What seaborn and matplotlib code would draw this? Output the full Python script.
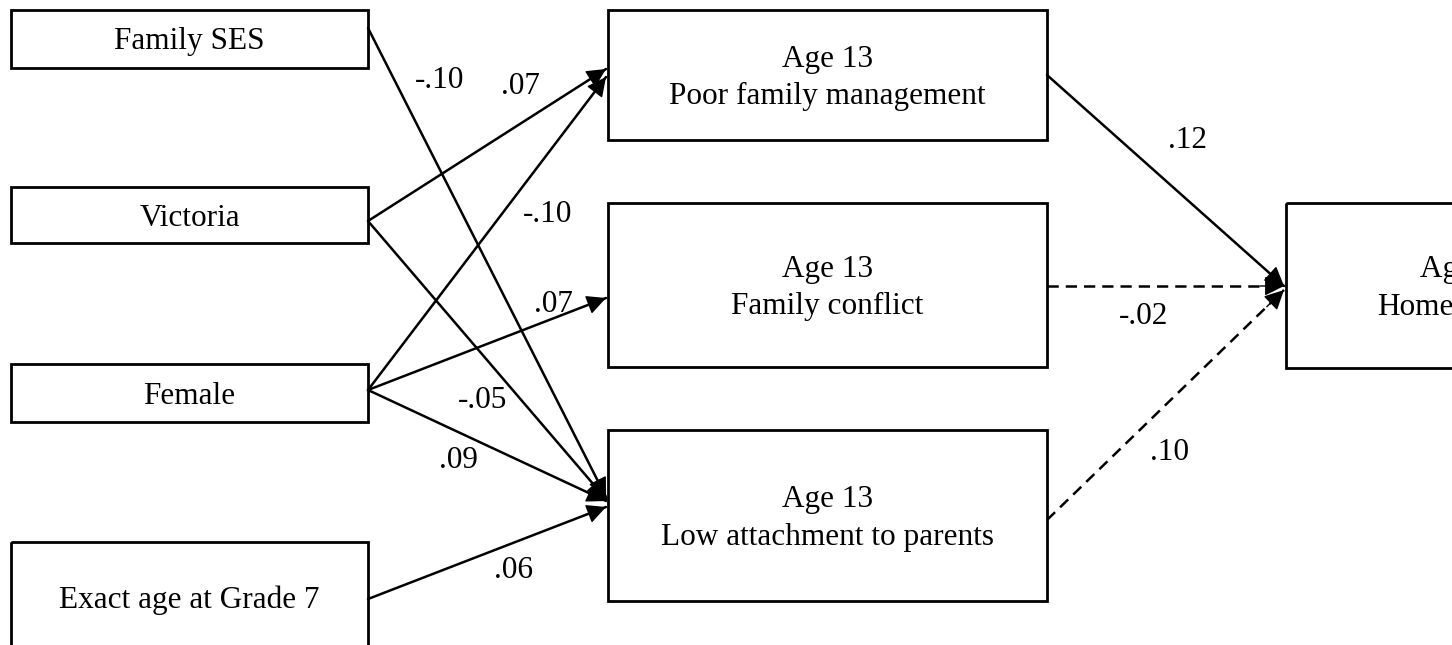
import matplotlib.pyplot as plt
import pandas as pd
import seaborn as sns

# --- Data: variables in the path model and the standardized coefficients ---
box_keys = ["ses", "vic", "fem", "age", "pfm", "con", "att", "hom"]
box_labels = [
    "Family SES", "Victoria", "Female", "Exact age at Grade 7",
    "Age 13\nPoor family management", "Age 13\nFamily conflict",
    "Age 13\nLow attachment to parents", "Age 15\nHomelessness",
]

path_src = ["ses", "vic", "vic", "fem", "fem", "fem", "age", "pfm", "con", "att"]
path_dst = ["att", "pfm", "att", "pfm", "con", "att", "att", "hom", "hom", "hom"]
path_coef = ["-.10", ".07", "-.05", "-.10", ".07", ".09", ".06", ".12", "-.02", ".10"]
path_kind = ["solid"] * 8 + ["dashed"] * 2

# --- Layout (pixel space, y down) ---
box_xy = {
    "ses": (11, 10, 368, 68), "vic": (11, 187, 368, 243),
    "fem": (11, 364, 368, 422), "age": (11, 542, 368, 652),
    "pfm": (608, 10, 1047, 140), "con": (608, 203, 1047, 367),
    "att": (608, 430, 1047, 601), "hom": (1286, 203, 1646, 368),
}
# where each path leaves its source and hits its target
start_y = [28, 221, 221, 390, 390, 390, 599, 75, 286, 520]
end_y = [497, 69, 499, 77, 298, 501, 507, 286, 286, 290]
label_xy = [(440, 80), (520, 86), (483, 401), (548, 214), (553, 304),
            (458, 461), (513, 571), (1188, 141), (1144, 316), (1170, 452)]

# --- Figure ---
sns.set_theme(style="white")
plt.rcParams["font.family"] = ["Liberation Serif", "DejaVu Serif"]

fig = plt.figure(figsize=(14.52, 6.45), dpi=100)
ax = fig.add_axes([0, 0, 1, 1])

# boxes with their labels
for key, text in zip(box_keys, box_labels):
    x0, y0, x1, y1 = box_xy[key]
    ax.add_patch(plt.Rectangle((x0, y0), x1 - x0, y1 - y0, fill=False,
                               edgecolor="black", linewidth=2.0, zorder=2))
    ax.text((x0 + x1) / 2, (y0 + y1) / 2 + 3, text, ha="center", va="center",
            fontsize=22.5, color="black", linespacing=1.38, zorder=3)

# path shafts through seaborn
rows = []
for i, (s, d) in enumerate(zip(path_src, path_dst)):
    sx = box_xy[s][2]
    dx = box_xy[d][0] - 2
    rows.append({"edge": i, "x": sx, "y": start_y[i], "kind": path_kind[i]})
    rows.append({"edge": i, "x": dx, "y": end_y[i], "kind": path_kind[i]})
paths = pd.DataFrame(rows)

sns.lineplot(data=paths, x="x", y="y", units="edge", estimator=None,
             style="kind", dashes={"solid": "", "dashed": (4.5, 2.8)},
             color="black", linewidth=1.8, sort=False, legend=False, ax=ax)

# arrow heads
for i in range(len(path_src)):
    sx, sy = box_xy[path_src[i]][2], start_y[i]
    tx, ty = box_xy[path_dst[i]][0] - 2, end_y[i]
    dxv, dyv = tx - sx, ty - sy
    n = (dxv ** 2 + dyv ** 2) ** 0.5
    back = (tx - 24 * dxv / n, ty - 24 * dyv / n)
    ax.annotate("", xy=(tx, ty), xytext=back,
                arrowprops=dict(arrowstyle="-|>,head_length=0.4,head_width=0.2",
                                mutation_scale=30, color="black", lw=1,
                                shrinkA=0, shrinkB=0), zorder=4)

# coefficients
for (lx, ly), c in zip(label_xy, path_coef):
    ax.text(lx, ly, c, ha="center", va="center", fontsize=22.5, color="black")

ax.set_xlim(0, 1452)
ax.set_ylim(645, 0)
ax.axis("off")

plt.savefig("out.png", dpi=100, facecolor="white")
plt.close()
